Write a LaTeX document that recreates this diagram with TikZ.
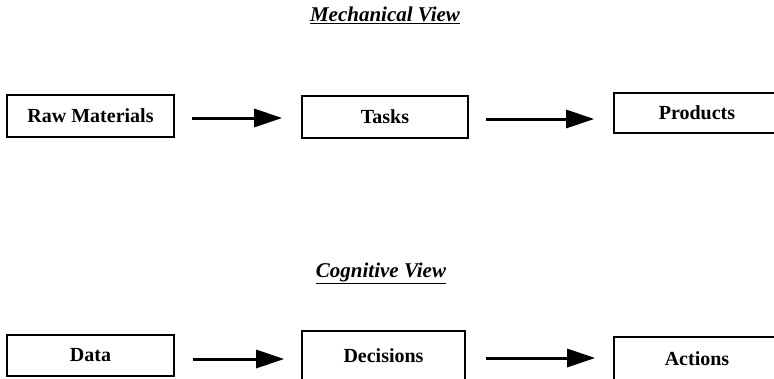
\documentclass[tikz,border=0pt]{standalone}
\usepackage{fontspec}
\setmainfont{Liberation Serif}
\usetikzlibrary{arrows.meta}
\begin{document}
\begin{tikzpicture}[x=1pt,y=-1pt,
  box/.style={draw=black,line width=1.6pt,inner sep=0pt,align=center,
              font=\fontsize{20}{24}\selectfont\bfseries},
  flow/.style={line width=3pt,-{Triangle[length=28pt,width=18pt]}},
  heading/.style={font=\fontsize{21}{24}\selectfont\bfseries\itshape}]
  \useasboundingbox (0,0) rectangle (774,378);
  \fill[white] (0,0) rectangle (774,378);

  % Headings
  \node[heading] (mech) at (385,15) {\underline{Mechanical View}};
  \node[heading] (cogn) at (381,273) {\underline{Cognitive View}};

  % Mechanical row
  \node[box,minimum width=167pt,minimum height=42pt] (raw) at (90.5,116) {Raw Materials};
  \node[box,minimum width=166pt,minimum height=42pt] (tasks) at (385,117) {Tasks};
  \node[box,minimum width=166pt,minimum height=40pt] (prod) at (697,113) {Products};

  % Cognitive row
  \node[box,minimum width=167pt,minimum height=41pt] (data) at (90.5,355.5) {Data};
  \node[box,minimum width=163pt,minimum height=50pt] (dec) at (383.5,356) {Decisions};
  \node[box,minimum width=166pt,minimum height=44pt] (act) at (697,359) {Actions};

  % Connectors (positive y runs downwards, so a negative yshift lowers a point)
  \draw[flow,shorten <=17pt,shorten >=19pt] ([yshift=-2pt]raw.east) -- ([yshift=-2pt]raw.east -| tasks.west);
  \draw[flow,shorten <=17pt,shorten >=19pt] ([yshift=-2pt]tasks.east) -- ([yshift=-2pt]tasks.east -| prod.west);
  \draw[flow,shorten <=18pt,shorten >=17pt] ([yshift=-3.5pt]data.east) -- ([yshift=-3.5pt]data.east -| dec.west);
  \draw[flow,shorten <=20pt,shorten >=18pt] ([yshift=-2pt]dec.east) -- ([yshift=-2pt]dec.east -| act.west);
\end{tikzpicture}
\end{document}
